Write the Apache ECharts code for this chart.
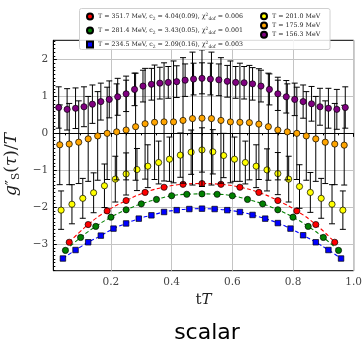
<!DOCTYPE html>
<html><head><meta charset="utf-8">
<script src="https://cdn.jsdelivr.net/npm/echarts@6/dist/echarts.min.js"></script>
<style>html,body{margin:0;padding:0;background:#fff}#c{width:362px;height:343px}</style>
</head><body><div id="c"></div>
<script>
// ---- data ----
const seriesNames = ['T351', 'T281', 'T234', 'T201', 'T176', 'T156'];
const legendTexts = {
  T351: 'T = 351.7 MeV, c{sb|2} = 4.04(0.09), χ{sp|2}{sb|dof} = 0.006',
  T281: 'T = 281.4 MeV, c{sb|2} = 3.43(0.05), χ{sp|2}{sb|dof} = 0.001',
  T234: 'T = 234.5 MeV, c{sb|2} = 2.09(0.16), χ{sp|2}{sb|dof} = 0.003',
  T201: 'T = 201.0 MeV',
  T176: 'T = 175.9 MeV',
  T156: 'T = 156.3 MeV'
};
const ntValues = [16, 20, 24, 28, 32, 36];
const colors = ['#ff0000', '#008000', '#0000ff', '#ffff00', '#ffa500', '#800080'];
const symbols = ['circle', 'circle', 'rect', 'circle', 'circle', 'circle'];

const redVals = [-2.95,-2.47,-2.10,-1.82,-1.60,-1.46,-1.38,-1.36,-1.38,-1.46,-1.60,-1.82,-2.10,-2.47,-2.95];
const greenVals = [-3.17,-2.82,-2.52,-2.27,-2.07,-1.91,-1.79,-1.69,-1.65,-1.64,-1.65,-1.69,-1.79,-1.91,-2.07,-2.27,-2.52,-2.82,-3.17];
const blueVals = [-3.39,-3.16,-2.95,-2.77,-2.58,-2.44,-2.31,-2.22,-2.13,-2.08,-2.05,-2.04,-2.05,-2.08,-2.13,-2.21,-2.31,-2.43,-2.58,-2.76,-2.95,-3.16,-3.39];
const yellowVals = [-2.08,-1.92,-1.76,-1.61,-1.42,-1.24,-1.10,-0.98,-0.89,-0.79,-0.70,-0.59,-0.51,-0.45,-0.50,-0.60,-0.70,-0.79,-0.89,-0.99,-1.09,-1.24,-1.44,-1.60,-1.76,-1.92,-2.08];
const orangeVals = [-0.31,-0.29,-0.24,-0.15,-0.07,0.00,0.04,0.09,0.18,0.26,0.30,0.31,0.31,0.35,0.40,0.41,0.40,0.35,0.31,0.30,0.29,0.25,0.18,0.09,0.04,0.00,-0.07,-0.15,-0.24,-0.29,-0.32];
const purpleVals = [0.70,0.65,0.68,0.72,0.79,0.86,0.92,0.99,1.07,1.19,1.28,1.33,1.36,1.38,1.40,1.44,1.47,1.49,1.47,1.45,1.41,1.38,1.37,1.34,1.28,1.19,1.07,0.99,0.92,0.86,0.80,0.72,0.68,0.65,0.70];

const yellowErr = [0.52,0.53,0.54,0.54,0.59,0.62,0.57,0.57,0.58,0.58,0.60,0.60,0.60,0.60,0.60,0.60,0.60,0.58,0.58,0.57,0.57,0.62,0.59,0.54,0.54,0.53,0.52];
const orangeErr = [1.08,1.10,1.12,1.15,1.20,1.25,1.30,1.35,1.45,1.50,1.55,1.60,1.65,1.70,1.80,1.85,1.80,1.70,1.65,1.60,1.55,1.50,1.45,1.35,1.30,1.25,1.20,1.15,1.12,1.10,1.08];
const purpleErr = [0.56,0.56,0.55,0.54,0.52,0.50,0.50,0.50,0.48,0.44,0.43,0.43,0.43,0.43,0.43,0.44,0.43,0.42,0.43,0.43,0.43,0.43,0.44,0.44,0.43,0.42,0.45,0.44,0.44,0.45,0.47,0.50,0.54,0.54,0.56];

// fit curves (read at the data positions)
const redFit = [-2.95,-2.47,-2.10,-1.82,-1.60,-1.46,-1.38,-1.36,-1.38,-1.46,-1.60,-1.82,-2.10,-2.47,-2.95];
const greenFit = [-3.17,-2.82,-2.52,-2.27,-2.07,-1.91,-1.79,-1.69,-1.65,-1.64,-1.65,-1.69,-1.79,-1.91,-2.07,-2.27,-2.52,-2.82,-3.17];
const blueFit = [-3.39,-3.16,-2.95,-2.77,-2.58,-2.44,-2.31,-2.22,-2.13,-2.08,-2.05,-2.04,-2.05,-2.08,-2.13,-2.21,-2.31,-2.43,-2.58,-2.76,-2.95,-3.16,-3.39];

const xMajorTicks = [0.2, 0.4, 0.6, 0.8, 1.0];
const xMinorTicks = [0.05,0.1,0.15,0.25,0.3,0.35,0.45,0.5,0.55,0.65,0.7,0.75,0.85,0.9,0.95];
const yMajorTicks = [-3, -2, -1, 0, 1, 2];
const yMinorTicks = [-3.7,-3.6,-3.5,-3.4,-3.3,-3.2,-3.1,-2.9,-2.8,-2.7,-2.6,-2.5,-2.4,-2.3,-2.2,-2.1,-1.9,-1.8,-1.7,-1.6,-1.5,-1.4,-1.3,-1.2,-1.1,-0.9,-0.8,-0.7,-0.6,-0.5,-0.4,-0.3,-0.2,-0.1,0.1,0.2,0.3,0.4,0.5,0.6,0.7,0.8,0.9,1.1,1.2,1.3,1.4,1.5,1.6,1.7,1.8,1.9,2.1,2.2,2.3,2.4,2.5];

const allVals = [redVals, greenVals, blueVals, yellowVals, orangeVals, purpleVals];
const allErr = [null, null, null, yellowErr, orangeErr, purpleErr];
const allFit = [redFit, greenFit, blueFit, null, null, null];

// ---- build ----
const serif = 'DejaVu Serif';
function pts(vals, nt) { return vals.map((v, i) => [(i + 1) / nt, v]); }

const series = [];
allFit.forEach((f, k) => {
  if (!f) return;
  series.push({
    name: 'fit' + k, type: 'line', data: pts(f, ntValues[k]), smooth: 0.5,
    showSymbol: false, symbol: 'none', z: 2,
    lineStyle: { color: colors[k], width: 1.1, type: [4, 2.5] }, silent: true
  });
});
allVals.forEach((vals, k) => {
  const err = allErr[k];
  if (err) {
    series.push({
      name: 'err' + k, type: 'custom', z: 3 + k * 2, silent: true,
      data: vals.map((v, i) => [(i + 1) / ntValues[k], v, err[i]]),
      encode: { x: 0, y: 1 },
      renderItem: function (params, api) {
        const x = api.value(0), y = api.value(1), e = api.value(2);
        const top = api.coord([x, y + e]);
        const bot = api.coord([x, y - e]);
        const cw = 3;
        const st = { stroke: '#000', lineWidth: 1 };
        return { type: 'group', children: [
          { type: 'line', shape: { x1: top[0], y1: top[1], x2: bot[0], y2: bot[1] }, style: st },
          { type: 'line', shape: { x1: top[0] - cw, y1: top[1], x2: top[0] + cw, y2: top[1] }, style: st },
          { type: 'line', shape: { x1: bot[0] - cw, y1: bot[1], x2: bot[0] + cw, y2: bot[1] }, style: st }
        ]};
      }
    });
  }
  series.push({
    name: seriesNames[k], type: 'scatter', data: pts(vals, ntValues[k]),
    symbol: symbols[k], symbolSize: symbols[k] === 'rect' ? 5.5 : 6.2, z: 4 + k * 2,
    itemStyle: { color: colors[k], borderColor: '#000', borderWidth: 0.7, opacity: 1 }
  });
});

const legendRich = {
  sb: { fontSize: 4.5, fontFamily: serif, verticalAlign: 'bottom', lineHeight: 9, color: '#222' },
  sp: { fontSize: 4.5, fontFamily: serif, verticalAlign: 'top', lineHeight: 9, color: '#222' }
};

const option = {
  animation: false,
  backgroundColor: '#fff',
  grid: { left: 53.3, right: 8.3, top: 40.3, bottom: 72.3, show: true, borderColor: '#000', borderWidth: 1,
    containLabel: false, outerBoundsMode: 'none' },
  xAxis: [{
    type: 'value', min: 0.01, max: 1.0, position: 'bottom',
    axisLine: { show: true, lineStyle: { color: '#000', width: 1 } },
    axisTick: { show: true, customValues: xMajorTicks, length: 3.5, inside: false, lineStyle: { color: '#000' } },
    axisLabel: { customValues: xMajorTicks, fontFamily: serif, fontSize: 10.5, color: '#444', margin: 6,
      formatter: v => v.toFixed(1) },
    splitLine: { show: true, lineStyle: { color: '#c4c4c4', width: 1 } },
    name: '{n|t}{i|T}', nameLocation: 'middle', nameGap: 20,
    nameTextStyle: { rich: { n: { fontFamily: serif, fontSize: 15, color: '#222' }, i: { fontFamily: serif, fontStyle: 'italic', fontSize: 15, color: '#222' } } }
  }, {
    type: 'value', min: 0.01, max: 1.0, position: 'bottom',
    axisLine: { show: false },
    axisTick: { show: true, customValues: xMinorTicks, length: 2, inside: false, lineStyle: { color: '#000' } },
    axisLabel: { show: false }, splitLine: { show: false }
  }],
  yAxis: [{
    type: 'value', min: -3.72, max: 2.52,
    axisLine: { show: true, lineStyle: { color: '#000', width: 1 } },
    axisTick: { show: true, customValues: yMajorTicks, length: 3.5, inside: true, lineStyle: { color: '#000' } },
    axisLabel: { customValues: yMajorTicks, fontFamily: serif, fontSize: 10.5, color: '#444', margin: 5,
      formatter: v => (v < 0 ? '\u2212' + Math.abs(v) : String(v)) },
    splitLine: { show: true, lineStyle: { color: '#c4c4c4', width: 1 } },
    name: '{i|g}{sp|″}{sb|S}{n|(}{i|τ}{n|)/}{i|T}', nameLocation: 'middle', nameGap: 23, nameRotate: 90,
    nameTextStyle: { padding: [0, 18, 0, 0], rich: {
      n: { fontFamily: serif, fontSize: 17, color: '#222', lineHeight: 20 },
      i: { fontFamily: serif, fontStyle: 'italic', fontSize: 17, color: '#222', lineHeight: 20 },
      sp: { fontFamily: serif, fontSize: 14, color: '#222', lineHeight: 20 },
      sb: { fontFamily: serif, fontSize: 10.5, color: '#222', verticalAlign: 'bottom', lineHeight: 20 }
    } }
  }, {
    type: 'value', min: -3.72, max: 2.52, position: 'left',
    axisLine: { show: false },
    axisTick: { show: true, customValues: yMinorTicks, length: 2, inside: true, lineStyle: { color: '#000' } },
    axisLabel: { show: false }, splitLine: { show: false }
  }],
  legend: [{
    data: seriesNames.slice(0, 3), orient: 'vertical', left: 86, top: 12, itemWidth: 6, itemHeight: 6, itemGap: 5,
    padding: 0, textStyle: { fontFamily: serif, fontSize: 6.3, color: '#222', lineHeight: 9, rich: legendRich },
    formatter: name => legendTexts[name], z: 20, selectedMode: false
  }, {
    data: seriesNames.slice(3), orient: 'vertical', left: 260, top: 12, itemWidth: 6, itemHeight: 6, itemGap: 1,
    padding: 0, textStyle: { fontFamily: serif, fontSize: 6.3, color: '#222', lineHeight: 8.3, rich: legendRich },
    formatter: name => legendTexts[name], z: 20, selectedMode: false
  }],
  graphic: [
    { type: 'rect', shape: { x: 79.5, y: 8.5, width: 250.5, height: 41, r: 2 }, z: 15,
      style: { fill: 'rgba(255,255,255,0.85)', stroke: '#d0d0d0', lineWidth: 1 } },
    { type: 'text', x: 207, y: 333, z: 5,
      style: { text: 'scalar', font: '22px "DejaVu Sans"', fill: '#000', align: 'center', verticalAlign: 'middle' } }
  ],
  series: series
};
const chart = echarts.init(document.getElementById('c'), null, { renderer: 'canvas' });
chart.setOption(option);
</script>
</body></html>
